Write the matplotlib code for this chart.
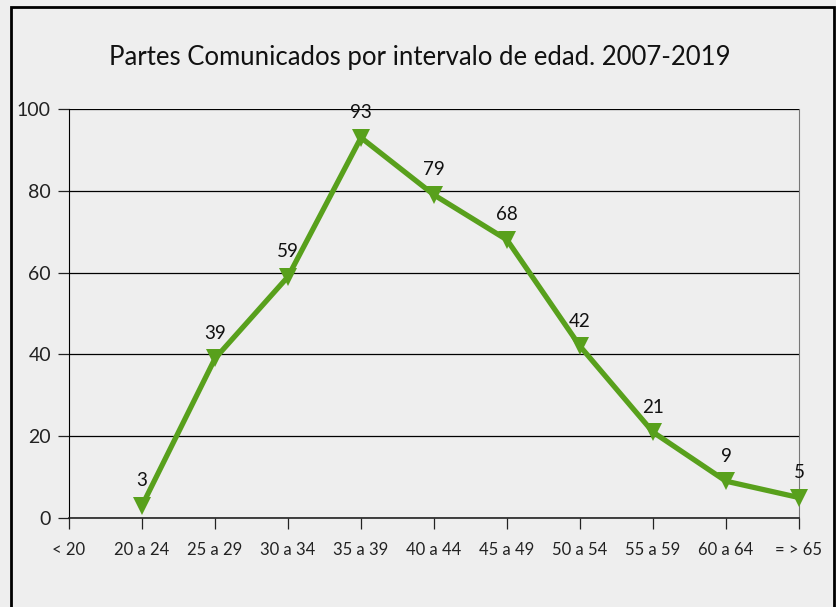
import numpy as np
import matplotlib
matplotlib.use("Agg")
from matplotlib import pyplot as plt
from matplotlib.patches import Rectangle

plt.rcParams['font.family'] = ['Lato', 'DejaVu Sans']

# data
categories = ["< 20", "20 a 24", "25 a 29", "30 a 34", "35 a 39", "40 a 44",
              "45 a 49", "50 a 54", "55 a 59", "60 a 64", "= > 65"]
partes = [np.nan, 3, 39, 59, 93, 79, 68, 42, 21, 9, 5]
y_ticks = [0, 20, 40, 60, 80, 100]

title = "Partes Comunicados por intervalo de edad. 2007-2019"
bg = "#eeeeee"
green = "#58a01c"

fig = plt.figure(figsize=(8.37, 6.07), dpi=100)
fig.patch.set_facecolor(bg)

# frame round the chart
fig.patches.append(Rectangle((11/837, -0.01), 823/837, 1 - 7/607 + 0.01,
                             transform=fig.transFigure, fill=False,
                             edgecolor="black", linewidth=2))

ax = fig.add_axes([69/837, 1 - 518/607, 730/837, 409/607])
ax.set_facecolor(bg)

x = np.arange(len(categories))
ax.plot(x, partes, color=green, linewidth=3.8, marker="v", markersize=12.5,
        markeredgewidth=0, zorder=3, clip_on=False)

for xi, v in zip(x, partes):
    if np.isnan(v):
        continue
    ax.annotate(str(v), (xi, v), xytext=(0, 18), textcoords="offset points",
                ha="center", va="center", fontsize=13.5, color="#111111")

ax.set_xlim(0, len(categories) - 1)
ax.set_ylim(0, 100)
ax.set_xticks(x)
ax.set_xticklabels(categories, fontsize=12)
ax.set_yticks(y_ticks)
ax.set_yticklabels([str(t) for t in y_ticks], fontsize=14)

ax.grid(axis="y", color="black", linewidth=0.9)
ax.set_axisbelow(True)
ax.tick_params(axis="x", length=8, width=0.9, pad=9, colors="#222222")
ax.tick_params(axis="y", length=8, width=0.9, pad=5, colors="#222222")

ax.spines["top"].set_visible(False)
ax.spines["right"].set_color("#777777")
ax.spines["left"].set_color("black")
ax.spines["bottom"].set_color("#222222")
ax.spines["bottom"].set_linewidth(1.2)

fig.text(420/837, 1 - 58/607, title, ha="center", va="center",
         fontsize=18.5, color="#111111")

fig.savefig("out.png", dpi=100, facecolor=bg)
